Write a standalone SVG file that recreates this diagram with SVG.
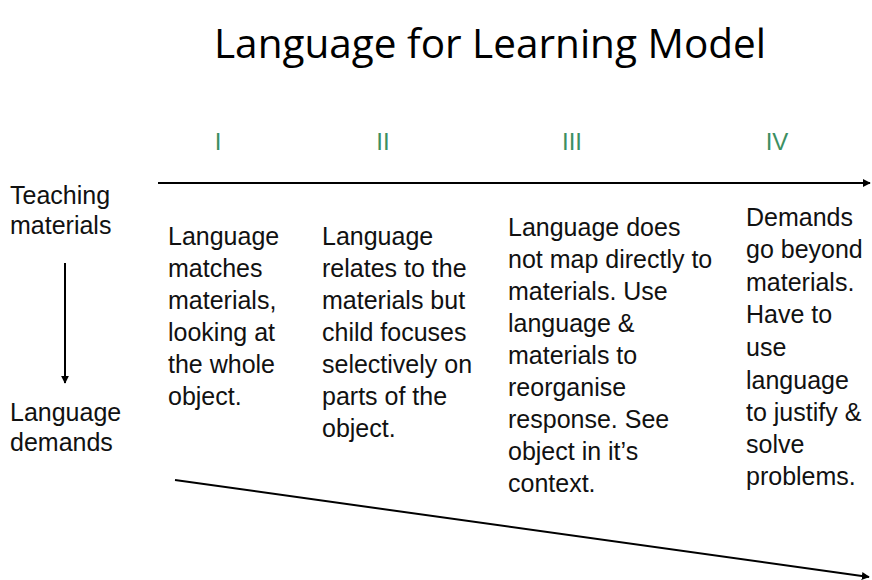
<svg xmlns="http://www.w3.org/2000/svg" width="872" height="580" viewBox="0 0 872 580">
<style>
.t{font-family:"Liberation Sans",Arial,sans-serif;font-size:25px;fill:#111}
.num{font-family:"Liberation Sans",Arial,sans-serif;font-size:24px;fill:#3c8f62}
.title{font-family:"Open Sans","Noto Sans",sans-serif;font-size:40.5px;fill:#000}
.ln{stroke:#000;stroke-width:2;fill:none}
</style>
<defs>
<marker id="ah" viewBox="0 0 10 10" refX="9" refY="5" markerWidth="4" markerHeight="4" orient="auto" markerUnits="strokeWidth">
<path d="M0,0 L10,5 L0,10 z" fill="#000"/>
</marker>
</defs>
<rect width="872" height="580" fill="#fff"/>
<text class="title" x="490" y="58" text-anchor="middle">Language for Learning Model</text>
<g id="numerals">
<text class="num" x="218" y="150" text-anchor="middle">I</text>
<text class="num" x="383" y="150" text-anchor="middle">II</text>
<text class="num" x="572" y="150" text-anchor="middle">III</text>
<text class="num" x="777" y="150" text-anchor="middle">IV</text>
</g>
<g id="left-labels">
<text class="t" x="10" y="204">Teaching</text>
<text class="t" x="10" y="234">materials</text>
<text class="t" x="10" y="421">Language</text>
<text class="t" x="10" y="451">demands</text>
</g>
<g id="col1">
<text class="t" x="168"><tspan x="168" y="245">Language</tspan><tspan x="168" y="277">matches</tspan><tspan x="168" y="309">materials,</tspan><tspan x="168" y="341">looking at</tspan><tspan x="168" y="373">the whole</tspan><tspan x="168" y="405">object.</tspan></text>
</g>
<g id="col2">
<text class="t"><tspan x="322" y="245">Language</tspan><tspan x="322" y="277">relates to the</tspan><tspan x="322" y="309">materials but</tspan><tspan x="322" y="341">child focuses</tspan><tspan x="322" y="373">selectively on</tspan><tspan x="322" y="405">parts of the</tspan><tspan x="322" y="437">object.</tspan></text>
</g>
<g id="col3">
<text class="t"><tspan x="508" y="236">Language does</tspan><tspan x="508" y="268">not map directly to</tspan><tspan x="508" y="300">materials. Use</tspan><tspan x="508" y="332">language &amp;</tspan><tspan x="508" y="364">materials to</tspan><tspan x="508" y="396">reorganise</tspan><tspan x="508" y="428">response. See</tspan><tspan x="508" y="460">object in it’s</tspan><tspan x="508" y="492">context.</tspan></text>
</g>
<g id="col4">
<text class="t"><tspan x="746" y="226">Demands</tspan><tspan x="746" y="258">go beyond</tspan><tspan x="746" y="291">materials.</tspan><tspan x="746" y="323">Have to</tspan><tspan x="746" y="356">use</tspan><tspan x="746" y="389">language</tspan><tspan x="746" y="421">to justify &amp;</tspan><tspan x="746" y="453">solve</tspan><tspan x="746" y="485">problems.</tspan></text>
</g>
<g id="connectors">
<line class="ln" x1="158" y1="183" x2="870" y2="183" marker-end="url(#ah)"/>
<line class="ln" x1="65" y1="263" x2="65" y2="383" marker-end="url(#ah)"/>
<line class="ln" x1="175" y1="480" x2="869" y2="577" marker-end="url(#ah)"/>
</g>
</svg>
